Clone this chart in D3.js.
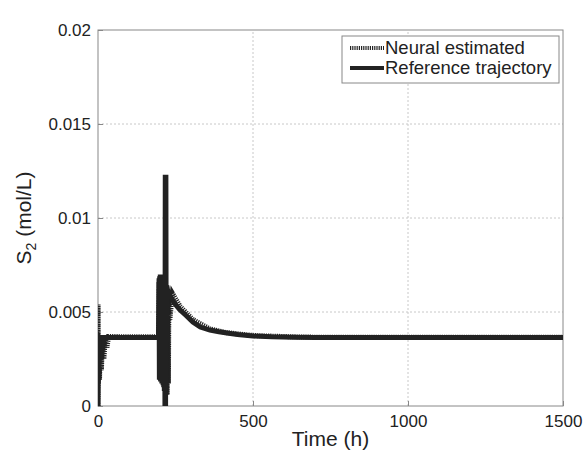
<!DOCTYPE html>
<html>
<head>
<meta charset="utf-8">
<script src="https://cdn.jsdelivr.net/npm/d3@7"></script>
<style>
  body { margin: 0; background: #fff; }
  svg text { font-family: "Liberation Sans", Arial, sans-serif; fill: #222; }
</style>
</head>
<body>
<div id="chart"></div>
<script>
// reference trajectory (time in h, S2 in mol/L)
var refT = [0, 2, 4, 100, 195, 197, 198, 199, 200, 201, 202, 203, 204, 205, 206, 207, 208, 209, 210, 211, 212, 213, 214, 215, 216, 217, 218, 219, 220, 222, 224, 235, 250, 265, 285, 306, 330, 361, 390, 416, 450, 500, 560, 629, 700, 800, 1000, 1200, 1500];
var refS = [0, 0.0037, 0.00365, 0.00365, 0.00365, 0.0068, 0.0014, 0.0069, 0.0015, 0.0070, 0.0013, 0.0069, 0.0014, 0.0070, 0.0012, 0.0069, 0.0013, 0.0068, 0.0011, 0.0069, 0.0010, 0.0068, 0.0008, 0.0066, 0.0, 0.0123, 0.0, 0.0123, 0.0006, 0.0064, 0.0062, 0.0058, 0.0054, 0.0051, 0.0048, 0.00447, 0.0042, 0.00404, 0.00395, 0.00388, 0.0038, 0.00372, 0.00368, 0.00366, 0.00365, 0.00364, 0.00364, 0.00364, 0.00364];

// neural estimated
var nnT = [0, 0.3, 1, 3, 5, 8, 11, 15, 19, 24, 29, 34, 40, 100, 195, 197, 199, 201, 203, 205, 207, 209, 211, 213, 215, 217, 219, 221, 223, 225, 227, 229, 232, 240, 265, 306, 361, 416, 500, 629, 700, 1000, 1500];
var nnS = [0, 0.0054, 0.0012, 0.0037, 0.0014, 0.0037, 0.0019, 0.0037, 0.0025, 0.0037, 0.0031, 0.0037, 0.0037, 0.00368, 0.00368, 0.0066, 0.0016, 0.0067, 0.0014, 0.0068, 0.0013, 0.0067, 0.0012, 0.0067, 0.0011, 0.0065, 0.0008, 0.0061, 0.0006, 0.0062, 0.0012, 0.0061, 0.0046, 0.0060, 0.0053, 0.0046, 0.0041, 0.0039, 0.00375, 0.00368, 0.00366, 0.00366, 0.00366];

var xTicks = [0, 500, 1000, 1500];
var yTicks = [0, 0.005, 0.01, 0.015, 0.02];
var legendLabels = ["Neural estimated", "Reference trajectory"];

var width = 587, height = 452;
var margin = { top: 30, right: 24, bottom: 46, left: 98 };

var svg = d3.select("#chart").append("svg")
  .attr("width", width)
  .attr("height", height);

var x = d3.scaleLinear().domain([0, 1500]).range([margin.left, width - margin.right]);
var y = d3.scaleLinear().domain([0, 0.02]).range([height - margin.bottom, margin.top]);

// grid
svg.append("g").selectAll("line").data(xTicks.slice(1, -1)).enter().append("line")
  .attr("x1", d => x(d)).attr("x2", d => x(d))
  .attr("y1", y(0)).attr("y2", y(0.02))
  .attr("stroke", "#c8c8c8").attr("stroke-width", 1).attr("stroke-dasharray", "2,2");
svg.append("g").selectAll("line").data(yTicks.slice(1, -1)).enter().append("line")
  .attr("x1", x(0)).attr("x2", x(1500))
  .attr("y1", d => y(d)).attr("y2", d => y(d))
  .attr("stroke", "#c8c8c8").attr("stroke-width", 1).attr("stroke-dasharray", "2,2");

// axes (ticks inside, box around)
svg.append("g")
  .attr("transform", `translate(0,${y(0)})`)
  .call(d3.axisBottom(x).tickValues(xTicks).tickSize(-5).tickPadding(9).tickFormat(d => d))
  .call(g => g.select(".domain").remove())
  .call(g => g.selectAll("line").attr("stroke", "#888"))
  .call(g => g.selectAll("text").attr("font-size", "17px").attr("fill", "#222"));
svg.append("g")
  .attr("transform", `translate(${x(0)},0)`)
  .call(d3.axisLeft(y).tickValues(yTicks).tickSize(-5).tickPadding(7).tickFormat(d => d))
  .call(g => g.select(".domain").remove())
  .call(g => g.selectAll("line").attr("stroke", "#888"))
  .call(g => g.selectAll("text").attr("font-size", "17px").attr("fill", "#222"));

svg.append("rect")
  .attr("x", x(0)).attr("y", y(0.02))
  .attr("width", x(1500) - x(0)).attr("height", y(0) - y(0.02))
  .attr("fill", "none").attr("stroke", "#888").attr("stroke-width", 1);

// clip
svg.append("clipPath").attr("id", "clip").append("rect")
  .attr("x", x(0)).attr("y", y(0.02))
  .attr("width", x(1500) - x(0)).attr("height", y(0) - y(0.02));

var line = d3.line().x(d => x(d[0])).y(d => y(d[1]));
var nnData = nnT.map((t, i) => [t, nnS[i]]);
var refData = refT.map((t, i) => [t, refS[i]]);

var plot = svg.append("g").attr("clip-path", "url(#clip)");
plot.append("path")
  .datum(nnData)
  .attr("d", line)
  .attr("fill", "none")
  .attr("stroke", "#222")
  .attr("stroke-width", 5)
  .attr("stroke-dasharray", "1.2,1");
plot.append("path")
  .datum(refData)
  .attr("d", line)
  .attr("fill", "none")
  .attr("stroke", "#222")
  .attr("stroke-width", 5);

// axis titles
svg.append("text")
  .attr("x", (x(0) + x(1500)) / 2)
  .attr("y", 446)
  .attr("text-anchor", "middle")
  .attr("font-size", "21px")
  .text("Time (h)");
var yl = svg.append("text")
  .attr("transform", `translate(31,${(y(0) + y(0.02)) / 2}) rotate(-90)`)
  .attr("text-anchor", "middle")
  .attr("font-size", "21px");
yl.append("tspan").text("S");
yl.append("tspan").attr("font-size", "14px").attr("dy", 5).text("2");
yl.append("tspan").attr("dy", -5).text(" (mol/L)");

// legend
var legend = svg.append("g").attr("transform", "translate(342,36)");
legend.append("rect")
  .attr("width", 217).attr("height", 47)
  .attr("fill", "#fff").attr("stroke", "#888").attr("stroke-width", 1);
legendLabels.forEach((label, i) => {
  var row = legend.append("g").attr("transform", `translate(0,${12 + i * 20})`);
  row.append("line")
    .attr("x1", 8).attr("x2", 42)
    .attr("stroke", "#222").attr("stroke-width", 4)
    .attr("stroke-dasharray", i === 0 ? "1.2,1" : null);
  row.append("text")
    .attr("x", 43).attr("y", 6)
    .attr("font-size", "18.5px")
    .text(label);
});
</script>
</body>
</html>
